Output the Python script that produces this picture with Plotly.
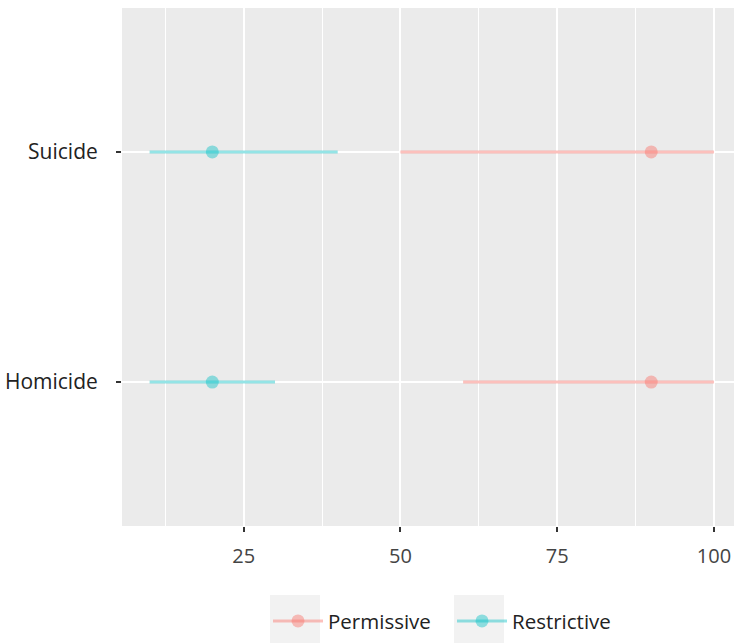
import plotly.graph_objects as go

categories = ["Homicide", "Suicide"]
permissive_est = [90, 90]
permissive_lo = [60, 50]
permissive_hi = [100, 100]
restrictive_est = [20, 20]
restrictive_lo = [10, 10]
restrictive_hi = [30, 40]
x_ticks = [25, 50, 75, 100]

series = [
    ("Permissive", permissive_est, permissive_lo, permissive_hi, "rgba(248,118,109,0.46)"),
    ("Restrictive", restrictive_est, restrictive_lo, restrictive_hi, "rgba(0,191,196,0.42)"),
]

fig = go.Figure()
for name, est, lo, hi, col in series:
    xs, ys = [], []
    for c, l, h in zip(categories, lo, hi):
        xs += [l, h, None]
        ys += [c, c, None]
    fig.add_trace(go.Scatter(x=xs, y=ys, mode="lines", line=dict(color=col, width=3),
                             showlegend=False, hoverinfo="skip"))
    fig.add_trace(go.Scatter(x=est, y=categories, mode="markers",
                             marker=dict(color=col, size=13, line=dict(width=0)),
                             showlegend=False))
    fig.add_trace(go.Scatter(x=[None], y=[None], mode="lines+markers", name=name,
                             line=dict(color=col, width=3),
                             marker=dict(color=col, size=13, line=dict(width=0))))

font = "Open Sans, Noto Sans, sans-serif"
fig.update_layout(
    width=734, height=643,
    margin=dict(l=122, r=0, t=8, b=117),
    paper_bgcolor="white", plot_bgcolor="#EBEBEB",
    font=dict(family=font, size=20, color="#222222"),
    showlegend=True,
    legend=dict(orientation="h", x=(268 - 122) / 612, xanchor="left", y=-0.145, yanchor="top",
                font=dict(size=20.5, color="#222222"), bgcolor="rgba(0,0,0,0)",
                itemwidth=50, entrywidth=119, tracegroupgap=0),
    xaxis=dict(range=[5.6, 103.2], tickvals=x_ticks, ticktext=[str(v) for v in x_ticks],
               showgrid=True, gridcolor="white", gridwidth=2, zeroline=False,
               ticks="outside", ticklen=5, tickwidth=1.5, tickcolor="#333333",
               tickfont=dict(size=20, color="#444444"), showline=False, automargin=False,
               ticklabelstandoff=7,
               minor=dict(dtick=12.5, tick0=0, showgrid=True, gridcolor="white", gridwidth=1)),
    yaxis=dict(type="category", categoryorder="array", categoryarray=categories,
               range=[-0.625, 1.625], showgrid=True, gridcolor="white", gridwidth=2,
               zeroline=False, ticks="outside", ticklen=5, tickwidth=1.5, tickcolor="#333333",
               tickfont=dict(size=21, color="#222222"), showline=False, automargin=False,
               ticklabelstandoff=14),
)

# legend key backgrounds
for x0 in [270, 454]:
    fig.add_shape(type="rect", xref="paper", yref="paper",
                  x0=(x0 - 122) / 612, x1=(x0 + 50 - 122) / 612,
                  y0=(526 - 643) / 518, y1=(526 - 595) / 518,
                  fillcolor="#F2F2F2", line=dict(width=0), layer="below")

fig.write_html("out.html", config={"displayModeBar": False},
               post_script="document.body.style.margin='0';")
